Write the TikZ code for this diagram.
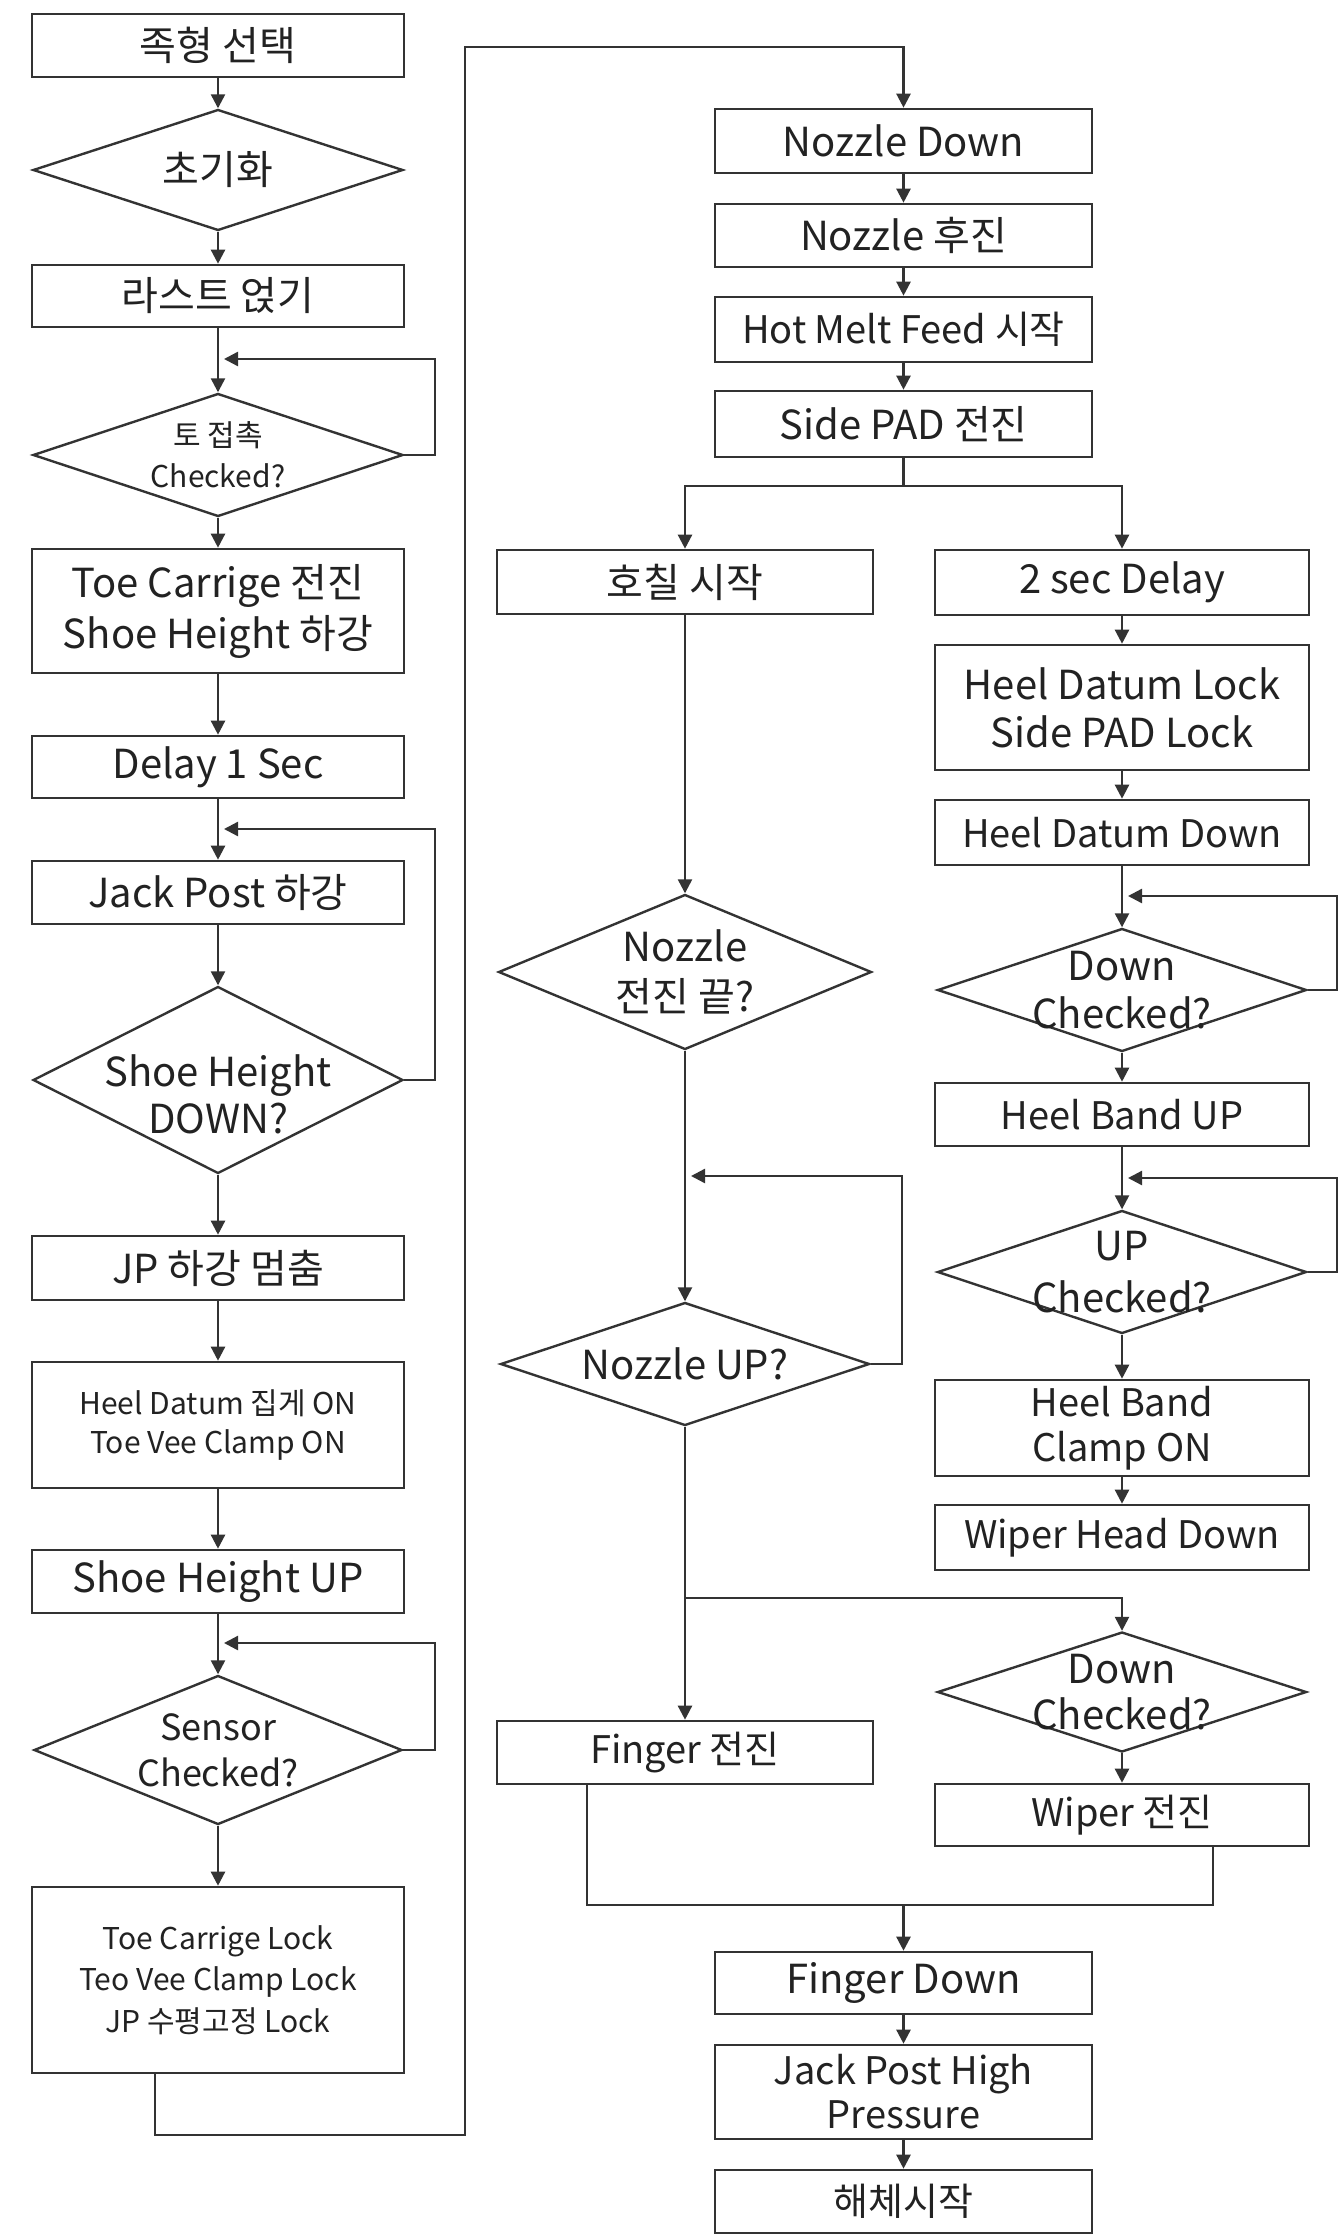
\documentclass[tikz,border=0pt]{standalone}
\usepackage{fontspec}
\setmainfont{Noto Sans CJK KR}
\usetikzlibrary{arrows.meta,shapes.geometric}
\definecolor{lc}{HTML}{333333}
\definecolor{tc}{HTML}{222222}
\newcommand{\fsz}[2]{\fontsize{#1}{#2}\selectfont}
\begin{document}
\begin{tikzpicture}[x=0.5pt,y=-0.5pt,
  bx/.style={draw=lc, line width=1.3pt, rectangle, inner sep=0pt, align=center, text=tc, font=\fsz{20}{25}},
  rb/.style n args={4}{at={({(#1+#3)/2},{(#2+#4)/2})}, minimum width={(#3-#1)*0.5pt}, minimum height={(#4-#2)*0.5pt}},
  dia/.style={draw=lc, line width=1.2pt, diamond, inner sep=0pt},
  dtx/.style={align=center, text=tc, inner sep=0pt, font=\fsz{20}{24}},
  ln/.style={draw=lc, line width=1.2pt},
  arr/.style={draw=lc, line width=1.2pt, -{Triangle[length=7pt,width=7pt]}},
  sm/.style={font=\fsz{15}{20.5}}
]
\fill[white] (0,0) rectangle (1340,2236);
\useasboundingbox (0,0) rectangle (1340,2236);

% ---------- left column ----------
\node[bx, rb={32}{14}{404}{77}] (L1) {족형 선택};
\node[dia, minimum width=185pt, minimum height=60.5pt] (L2) at (218,170) {};
\node[dtx] (L2t) at (L2.center) {초기화};
\node[bx, rb={32}{265}{404}{327}] (L3) {라스트 얹기};
\node[dia, minimum width=185pt, minimum height=61.5pt] (L4) at (218,455) {};
\node[dtx, sm] (L4t) at (L4.center) {토 접촉\\Checked?};
\node[bx, font=\fsz{20}{25.5}, rb={32}{549}{404}{673}] (L5) {Toe Carrige 전진\\Shoe Height 하강};
\node[bx, rb={32}{736}{404}{798}] (L6) {Delay 1 Sec};
\node[bx, rb={32}{861}{404}{924}] (L7) {Jack Post 하강};
\node[dia, minimum width=185pt, minimum height=93.5pt] (L8) at (218,1080) {};
\node[dtx, font=\fsz{20}{23.5}] (L8t) at ([yshift=-7pt]L8.center) {Shoe Height\\DOWN?};
\node[bx, rb={32}{1236}{404}{1300}] (L9) {JP 하강 멈춤};
\node[bx, font=\fsz{15}{19.5}, rb={32}{1362}{404}{1488}] (L10) {Heel Datum 집게 ON\\Toe Vee Clamp ON};
\node[bx, rb={32}{1550}{404}{1613}] (L11) {Shoe Height UP};
\node[dia, minimum width=184pt, minimum height=74.5pt] (L12) at (218,1750) {};
\node[dtx, font=\fsz{18}{23}] (L12t) at (L12.center) {Sensor\\Checked?};
\node[bx, font=\fsz{15}{20.75}, rb={32}{1887}{404}{2073}] (L13) {Toe Carrige Lock\\Teo Vee Clamp Lock\\JP 수평고정 Lock};

\coordinate (j1) at (224,359);
\coordinate (j2) at (224,829);
\coordinate (j3) at (224,1643);

\draw[arr] (L1) -- (L2);
\draw[arr] (L2) -- (L3);
\draw[arr] (L3) -- (L4);
\draw[arr] (L4.east) -| (435,359) -- (j1);
\draw[arr] (L4) -- (L5);
\draw[arr] (L5) -- (L6);
\draw[arr] (L6) -- (L7);
\draw[arr] (L7) -- (L8);
\draw[arr] (L8.east) -| (435,829) -- (j2);
\draw[arr] (L8) -- (L9);
\draw[arr] (L9) -- (L10);
\draw[arr] (L10) -- (L11);
\draw[arr] (L11) -- (L12);
\draw[arr] (L12.east) -| (435,1643) -- (j3);
\draw[arr] (L12) -- (L13);

% ---------- middle column ----------
\node[bx, rb={715}{109}{1092}{173}] (M1) {Nozzle Down};
\node[bx, rb={715}{204}{1092}{267}] (M2) {Nozzle 후진};
\node[bx, font=\fsz{19}{24}, rb={715}{297}{1092}{362}] (M3) {Hot Melt Feed 시작};
\node[bx, rb={715}{391}{1092}{457}] (M4) {Side PAD 전진};

\coordinate (o1) at (465,2135);
\coordinate (o2) at (465,47);
\draw[arr] ([xshift=62pt]L13.south west) |- (o1) -- (o2) -- (M1.north |- o2) -- (M1.north);

\draw[arr] (M1) -- (M2);
\draw[arr] (M2) -- (M3);
\draw[arr] (M3) -- (M4);

% ---------- branch A ----------
\node[bx, rb={497}{550}{873}{614}] (A1) {호칠 시작};
\node[dia, minimum width=186.5pt, minimum height=77.5pt] (A2) at (685,972) {};
\node[dtx, font=\fsz{20}{25}] (A2t) at (A2.center) {Nozzle\\전진 끝?};
\node[dia, minimum width=184.5pt, minimum height=61.5pt] (A3) at (685,1364) {};
\node[dtx] (A3t) at (A3.center) {Nozzle UP?};
\node[bx, font=\fsz{19}{24}, rb={497}{1721}{873}{1784}] (A4) {Finger 전진};

% ---------- branch B ----------
\node[bx, rb={935}{550}{1309}{615}] (B1) {2 sec Delay};
\node[bx, font=\fsz{20}{24}, rb={935}{645}{1309}{770}] (B2) {Heel Datum Lock\\Side PAD Lock};
\node[bx, font=\fsz{19}{24}, rb={935}{800}{1309}{865}] (B3) {Heel Datum Down};
\node[dia, minimum width=184.5pt, minimum height=61.5pt] (B4) at (1122,990) {};
\node[dtx] (B4t) at (B4.center) {Down\\Checked?};
\node[bx, font=\fsz{19}{24}, rb={935}{1083}{1309}{1146}] (B5) {Heel Band UP};
\node[dia, minimum width=184.5pt, minimum height=61.5pt] (B6) at (1122,1272) {};
\node[dtx, font=\fsz{20}{26}] (B6t) at (B6.center) {UP\\Checked?};
\node[bx, font=\fsz{19}{22.5}, rb={935}{1380}{1309}{1476}] (B7) {Heel Band\\Clamp ON};
\node[bx, font=\fsz{19}{24}, rb={935}{1505}{1309}{1570}] (B8) {Wiper Head Down};
\node[dia, minimum width=184.5pt, minimum height=60pt] (B9) at (1122,1692) {};
\node[dtx, font=\fsz{20}{23}] (B9t) at (B9.center) {Down\\Checked?};
\node[bx, font=\fsz{19}{24}, rb={935}{1784}{1309}{1846}] (B10) {Wiper 전진};

% ---------- bottom ----------
\node[bx, rb={715}{1952}{1092}{2014}] (F1) {Finger Down};
\node[bx, font=\fsz{19}{22}, rb={715}{2045}{1092}{2139}] (F2) {Jack Post High\\Pressure};
\node[bx, font=\fsz{19}{24}, rb={715}{2170}{1092}{2233}] (F3) {해체시작};

% ---------- connectors right ----------
\coordinate (s1) at (903.5,486);
\draw[arr] (M4.south) -- (s1) -| (A1.north);
\draw[arr] (s1) -| (B1.north);

\coordinate (j6) at (691,1176);
\draw[arr] (A1) -- (A2);
\draw[arr] (A2) -- (A3);
\draw[arr] (A3.east) -| (902,1176) -- (j6);
\draw[arr] (A3) -- (A4);
\coordinate (s2) at (685,1598);
\draw[arr] (s2) -| (B9.north);

\coordinate (j4) at (1128,896);
\coordinate (j5) at (1128,1178);
\draw[arr] (B1) -- (B2);
\draw[arr] (B2) -- (B3);
\draw[arr] (B3) -- (B4);
\draw[arr] (B4.east) -| (1337,896) -- (j4);
\draw[arr] (B4) -- (B5);
\draw[arr] (B5) -- (B6);
\draw[arr] (B6.east) -| (1337,1178) -- (j5);
\draw[arr] (B6) -- (B7);
\draw[arr] (B7) -- (B8);
\draw[arr] (B9) -- (B10);

\coordinate (m1) at (903.5,1905);
\coordinate (m2) at (1213,1905);
\draw[ln] ([xshift=45.5pt]A4.south west) |- (m2) -- (B10.south -| m2);
\draw[arr] (m1) -- (F1.north);
\draw[arr] (F1) -- (F2);
\draw[arr] (F2) -- (F3);
\end{tikzpicture}
\end{document}
